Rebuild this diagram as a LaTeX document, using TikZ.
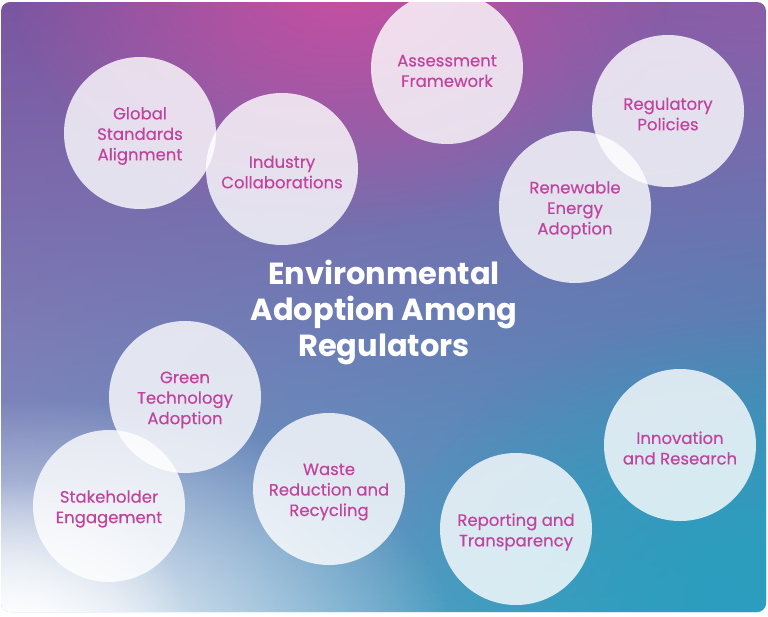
\documentclass[tikz,border=0pt]{standalone}
\usepackage{fontspec}
\setmainfont{Poppins}
\newfontfamily\bubfont{Poppins}[FakeBold=0.35]
\usetikzlibrary{fadings,shadings}
\definecolor{txtpink}{HTML}{C0449D}
\definecolor{bgTL}{HTML}{7A55A0}
\definecolor{bgTR}{HTML}{8C5CA8}
\definecolor{bgBL}{HTML}{7E9CC8}
\definecolor{bgBR}{HTML}{2C9EBE}
\definecolor{magtop}{HTML}{C84FA2}
\tikzfading[name=softglow, inner color=transparent!0, outer color=transparent!100]
\tikzset{
  bubble/.style={circle, minimum size=152pt, inner sep=0pt, fill=white, fill opacity=0.8},
  bubtext/.style={text=txtpink, align=center, fill opacity=1, text opacity=1, yshift=-3pt,
    font=\bubfont\fontsize{16.5}{20.5}\selectfont},
  titletext/.style={text=white, align=center, font=\fontsize{30.5}{36}\selectfont\bfseries}
}
\begin{document}
\begin{tikzpicture}[x=1pt,y=-1pt]
\useasboundingbox (0,0) rectangle (768,616);
\fill[white] (0,0) rectangle (768,616);
\begin{scope}
\clip[rounded corners=9pt] (1,2) rectangle (766,612);
\shade[upper left=bgTL, upper right=bgTR, lower left=bgBL, lower right=bgBR] (0,0) rectangle (768,616);
% magenta glow at top centre
\fill[magtop, path fading=softglow] (340,-20) ellipse (330 and 250);
% teal towards bottom right
\fill[bgBR, path fading=softglow] (740,580) ellipse (360 and 260);
% white glow at bottom left
\fill[white, path fading=softglow] (40,660) ellipse (420 and 260);
\fill[white, path fading=softglow] (10,630) ellipse (180 and 150);
\end{scope}

\node[bubble, label={[bubtext]center:Global\\Standards\\Alignment}] (global) at (140,133) {};
\node[bubble, label={[bubtext]center:Industry\\Collaborations}] (industry) at (282,169) {};
\node[bubble, label={[bubtext]center:Assessment\\Framework}] (assess) at (447,68) {};
\node[bubble, label={[bubtext]center:Regulatory\\Policies}] (regpol) at (668,111) {};
\node[bubble, label={[bubtext]center:Renewable\\Energy\\Adoption}] (renew) at (575,207) {};
\node[bubble, label={[bubtext]center:Green\\Technology\\Adoption}] (green) at (185,397) {};
\node[bubble, label={[bubtext]center:Stakeholder\\Engagement}] (stake) at (109,506) {};
\node[bubble, label={[bubtext]center:Waste\\Reduction and\\Recycling}] (waste) at (329,489) {};
\node[bubble, label={[bubtext]center:Reporting and\\Transparency}] (report) at (516,529) {};
\node[bubble, label={[bubtext]center:Innovation\\and Research}] (innov) at (680,445) {};

\node[titletext] (title) at (384,312) {Environmental\\Adoption Among\\Regulators};
\end{tikzpicture}
\end{document}
